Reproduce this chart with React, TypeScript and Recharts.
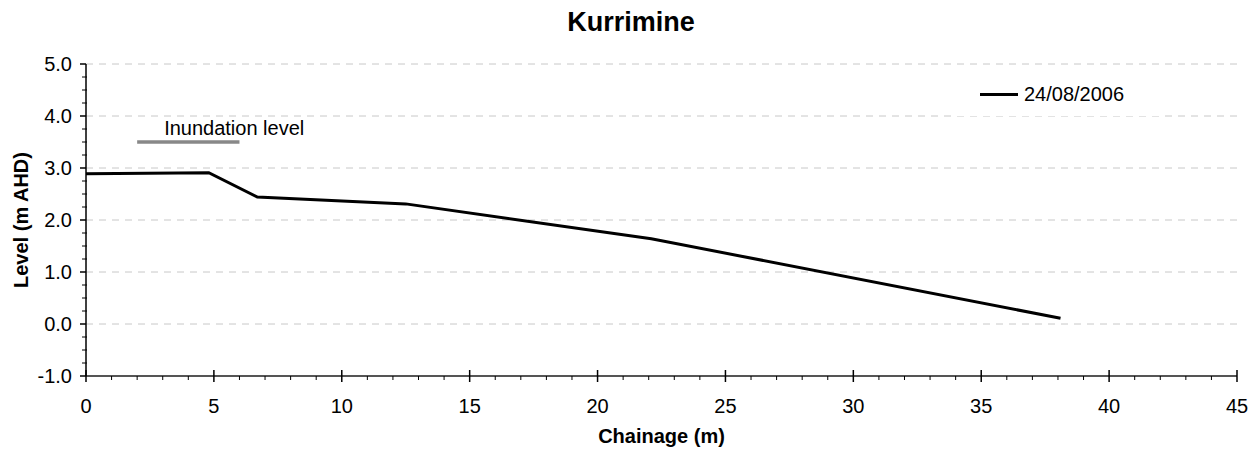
import React from 'react';
import {
  LineChart, Line, XAxis, YAxis, ReferenceLine, Legend, Label, LabelList
} from 'recharts';

// survey profile
const chainage = [0, 4.8, 6.7, 12.5, 22.1, 38.1];
const level = [2.89, 2.91, 2.44, 2.31, 1.64, 0.11];

const inundationChainage = [2, 6];
const inundationLevel = [3.5, 3.5];

const xTicks = [
  0, 1, 2, 3, 4, 5, 6, 7, 8, 9, 10, 11, 12, 13, 14, 15, 16, 17, 18, 19, 20, 21, 22,
  23, 24, 25, 26, 27, 28, 29, 30, 31, 32, 33, 34, 35, 36, 37, 38, 39, 40, 41, 42, 43, 44, 45,
];
const yTicks = [
  -1, -0.75, -0.5, -0.25, 0, 0.25, 0.5, 0.75, 1, 1.25, 1.5, 1.75, 2, 2.25, 2.5, 2.75,
  3, 3.25, 3.5, 3.75, 4, 4.25, 4.5, 4.75, 5,
];
const gridLevels = [0, 1, 2, 3, 4, 5];

const profileData = chainage.map((x, i) => ({ x, level: level[i] }));
const inundationData = inundationChainage.map((x, i) => ({ x, inundation: inundationLevel[i] }));

const FONT = '"Liberation Sans", Arial, sans-serif';
const WIDTH = 1251;
const HEIGHT = 452;

const XTick = ({ x, y, payload }: any) => {
  const major = payload.value % 5 === 0;
  return (
    <g>
      {major
        ? <line x1={x} x2={x} y1={y - 6} y2={y + 6} stroke="#000" strokeWidth={1.5} />
        : <line x1={x} x2={x} y1={y} y2={y + 4} stroke="#000" strokeWidth={1} />}
      {major && (
        <text x={x} y={y + 37} textAnchor="middle" fontSize={20} fill="#000" fontFamily={FONT}>
          {payload.value}
        </text>
      )}
    </g>
  );
};

const YTick = ({ x, y, payload }: any) => {
  const major = Number.isInteger(payload.value);
  return (
    <g>
      {major
        ? <line x1={x - 6} x2={x} y1={y} y2={y} stroke="#000" strokeWidth={1.5} />
        : <line x1={x - 4} x2={x + 1} y1={y} y2={y} stroke="#000" strokeWidth={1} />}
      {major && (
        <text x={x - 14} y={y + 7} textAnchor="end" fontSize={20} fill="#000" fontFamily={FONT}>
          {payload.value.toFixed(1)}
        </text>
      )}
    </g>
  );
};

const LegendBox = ({ payload }: any) => {
  const items = (payload || []).filter((p: any) => p.dataKey === 'level');
  return (
    <div style={{ background: '#fff', width: 210, height: 44, display: 'flex', alignItems: 'center' }}>
      {items.map((p: any) => (
        <div key={p.value} style={{ display: 'flex', alignItems: 'center', marginLeft: 28 }}>
          <div style={{ width: 38, height: 3, background: '#000' }} />
          <span style={{ marginLeft: 6, fontSize: 20, fontFamily: FONT, color: '#000' }}>{p.value}</span>
        </div>
      ))}
    </div>
  );
};

export default function App() {
  return (
    <div style={{ position: 'absolute', left: 0, top: 0, width: WIDTH, height: HEIGHT, background: '#fff' }}>
      <div
        style={{
          position: 'absolute', top: 9, left: 0, width: WIDTH, paddingLeft: 11, boxSizing: 'border-box',
          textAlign: 'center', fontFamily: FONT, fontWeight: 'bold', fontSize: 27, lineHeight: 1, zIndex: 2,
        }}
      >
        Kurrimine
      </div>
      <LineChart
        width={WIDTH}
        height={HEIGHT}
        data={profileData}
        margin={{ top: 64, right: 14, bottom: 0, left: 0 }}
        style={{ fontFamily: FONT }}
      >
        {gridLevels.map((v) => (
          <ReferenceLine key={v} y={v} stroke="#c8c8c8" strokeDasharray="7 6" strokeWidth={1} />
        ))}
        <XAxis
          dataKey="x"
          type="number"
          domain={[0, 45]}
          ticks={xTicks}
          interval={0}
          height={76}
          tickSize={0}
          tickMargin={0}
          tickLine={false}
          tick={<XTick />}
          axisLine={{ stroke: '#555', strokeWidth: 2 }}
        >
          <Label
            content={({ viewBox }: any) => (
              <text
                x={viewBox.x + viewBox.width / 2}
                y={viewBox.y + 67}
                textAnchor="middle"
                fontSize={20}
                fontWeight="bold"
                fontFamily={FONT}
                fill="#000"
              >
                Chainage (m)
              </text>
            )}
          />
        </XAxis>
        <YAxis
          type="number"
          domain={[-1, 5]}
          ticks={yTicks}
          interval={0}
          width={86}
          tickSize={0}
          tickMargin={0}
          tickLine={false}
          tick={<YTick />}
          axisLine={{ stroke: '#000', strokeWidth: 1.5 }}
        >
          <Label
            content={({ viewBox }: any) => {
              const cx = 28;
              const cy = viewBox.y + viewBox.height / 2;
              return (
                <text
                  x={cx}
                  y={cy}
                  transform={`rotate(-90, ${cx}, ${cy})`}
                  textAnchor="middle"
                  fontSize={20}
                  fontWeight="bold"
                  fontFamily={FONT}
                  fill="#000"
                >
                  Level (m AHD)
                </text>
              );
            }}
          />
        </YAxis>
        <Legend
          layout="vertical"
          align="center"
          verticalAlign="middle"
          content={<LegendBox />}
          wrapperStyle={{ top: 72, left: 952, width: 210 }}
        />
        <Line
          data={inundationData}
          dataKey="inundation"
          name="Inundation level"
          type="linear"
          stroke="#888"
          strokeWidth={3.5}
          dot={false}
          legendType="none"
          isAnimationActive={false}
        >
          <LabelList
            dataKey="inundation"
            content={({ x, y, index }: any) =>
              index === 0 ? (
                <text x={x + 27} y={y - 7} fontSize={20} fontFamily={FONT} fill="#000">
                  Inundation level
                </text>
              ) : null
            }
          />
        </Line>
        <Line
          dataKey="level"
          name="24/08/2006"
          type="linear"
          stroke="#000"
          strokeWidth={3}
          dot={false}
          isAnimationActive={false}
        />
      </LineChart>
    </div>
  );
}
